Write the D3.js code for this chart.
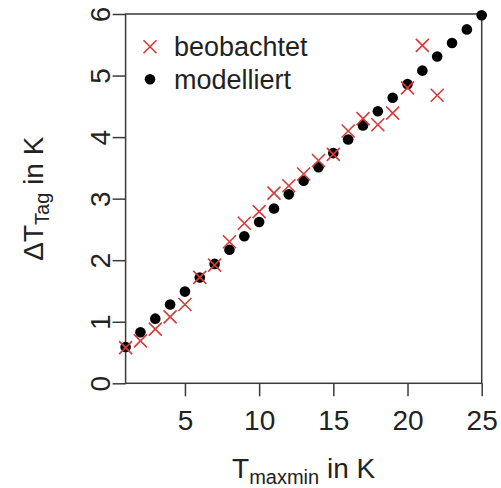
<!DOCTYPE html>
<html>
<head>
<meta charset="utf-8">
<script src="https://cdn.jsdelivr.net/npm/d3@7"></script>
<style>
  body { margin: 0; background: #fff; }
  svg { display: block; font-family: "Liberation Sans", Arial, sans-serif; }
</style>
</head>
<body>
<svg id="chart" width="501" height="488"></svg>
<script>
// T_maxmin (K) for each point
const tObserved = [1, 2, 3, 4, 5, 6, 7, 8, 9, 10, 11, 12, 13, 14, 15, 16, 17, 18, 19, 20, 21, 22];
const dtObserved = [0.58, 0.69, 0.88, 1.08, 1.28, 1.72, 1.92, 2.30, 2.60, 2.79, 3.09, 3.21, 3.40, 3.62, 3.72, 4.10, 4.30, 4.20, 4.39, 4.80, 5.49, 4.68];

const tModel = [1, 2, 3, 4, 5, 6, 7, 8, 9, 10, 11, 12, 13, 14, 15, 16, 17, 18, 19, 20, 21, 22, 23, 24, 25];
const dtModel = [0.59, 0.83, 1.05, 1.28, 1.49, 1.72, 1.94, 2.17, 2.39, 2.62, 2.84, 3.07, 3.29, 3.51, 3.74, 3.96, 4.19, 4.42, 4.64, 4.86, 5.08, 5.31, 5.53, 5.75, 5.98];

const xTicks = [5, 10, 15, 20, 25];
const yTicks = [0, 1, 2, 3, 4, 5, 6];
const legendLabels = ["beobachtet", "modelliert"];

const svg = d3.select("#chart");
const plotLeft = 125.6, plotRight = 481.7, plotTop = 14, plotBottom = 383.3;
const ink = "#222", frame = "#3a3a3a", red = "#d63a3a";

const x = d3.scaleLinear().domain([1, 25]).range([plotLeft, plotRight]);
const y = d3.scaleLinear().domain([0, 6]).range([plotBottom, plotTop]);

// Plot frame
svg.append("rect")
  .attr("x", plotLeft).attr("y", plotTop)
  .attr("width", plotRight - plotLeft).attr("height", plotBottom - plotTop)
  .attr("fill", "none").attr("stroke", frame).attr("stroke-width", 1.5);

// X axis
const xAxis = svg.append("g")
  .attr("transform", `translate(0,${plotBottom})`)
  .call(d3.axisBottom(x).tickValues(xTicks).tickSize(13).tickPadding(2).tickFormat(d3.format("d")));
xAxis.select(".domain").remove();
xAxis.selectAll("line").attr("stroke", frame).attr("stroke-width", 1.5);
xAxis.selectAll("text")
  .attr("y", 0).attr("dy", null)
  .attr("transform", "translate(0,47)")
  .attr("fill", ink).attr("font-size", 28).attr("font-family", "Liberation Sans, Arial, sans-serif");

// Y axis with rotated tick labels
const yAxis = svg.append("g")
  .attr("transform", `translate(${plotLeft},0)`)
  .call(d3.axisLeft(y).tickValues(yTicks).tickSize(13).tickFormat(d3.format("d")));
yAxis.select(".domain").remove();
yAxis.selectAll("line").attr("stroke", frame).attr("stroke-width", 1.5);
yAxis.selectAll("text")
  .attr("x", 0).attr("dy", null).attr("y", 0)
  .attr("text-anchor", "middle")
  .attr("transform", "translate(-16,0) rotate(-90)")
  .attr("fill", ink).attr("font-size", 28).attr("font-family", "Liberation Sans, Arial, sans-serif");

// Axis titles
const xTitle = svg.append("text")
  .attr("x", (plotLeft + plotRight) / 2).attr("y", 478)
  .attr("text-anchor", "middle").attr("fill", ink).attr("font-size", 28);
xTitle.append("tspan").text("T");
xTitle.append("tspan").attr("font-size", 20).attr("dy", 6).text("maxmin");
xTitle.append("tspan").attr("dy", -6).text(" in K");

const yTitle = svg.append("text")
  .attr("transform", `translate(43,${(plotTop + plotBottom) / 2}) rotate(-90)`)
  .attr("text-anchor", "middle").attr("fill", ink).attr("font-size", 28);
yTitle.append("tspan").text("ΔT");
yTitle.append("tspan").attr("font-size", 20).attr("dy", 6).text("Tag");
yTitle.append("tspan").attr("dy", -6).text(" in K");

// Cross marker path
const h = 6.5;
const crossPath = `M${-h},${-h}L${h},${h}M${-h},${h}L${h},${-h}`;

// Modelled values: filled black dots
svg.append("g").selectAll("circle")
  .data(tModel.map((t, i) => [t, dtModel[i]]))
  .join("circle")
  .attr("cx", d => x(d[0])).attr("cy", d => y(d[1]))
  .attr("r", 5.3).attr("fill", "#000");

// Observed values: red crosses
svg.append("g").selectAll("path")
  .data(tObserved.map((t, i) => [t, dtObserved[i]]))
  .join("path")
  .attr("transform", d => `translate(${x(d[0])},${y(d[1])})`)
  .attr("d", crossPath)
  .attr("stroke", red).attr("stroke-width", 1.6).attr("fill", "none");

// Legend
const legend = svg.append("g");
legend.append("path")
  .attr("transform", "translate(150,46.7)")
  .attr("d", crossPath).attr("stroke", red).attr("stroke-width", 1.6).attr("fill", "none");
legend.append("circle").attr("cx", 150).attr("cy", 79.3).attr("r", 5.3).attr("fill", "#000");
legend.selectAll("text")
  .data(legendLabels)
  .join("text")
  .attr("x", 174).attr("y", (d, i) => 56 + i * 33)
  .attr("fill", ink).attr("font-size", 27)
  .text(d => d);
</script>
</body>
</html>
